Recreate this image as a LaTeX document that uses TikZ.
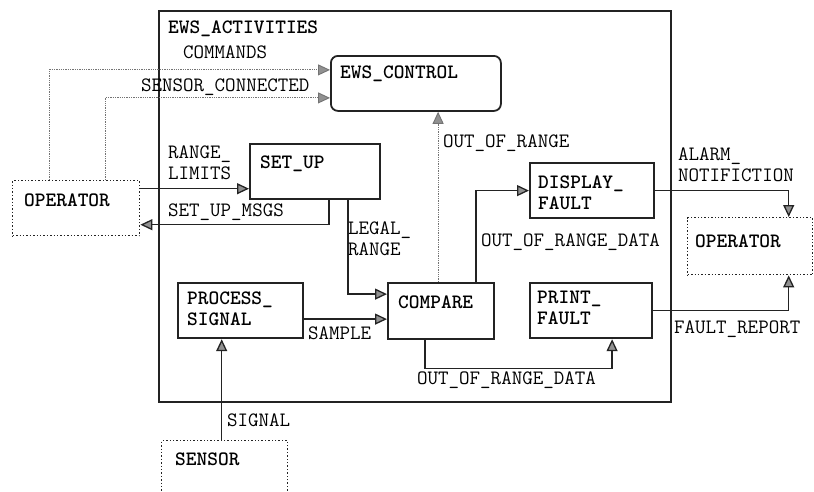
\documentclass[tikz,border=0pt]{standalone}
\usetikzlibrary{arrows.meta,positioning}
\definecolor{inkline}{RGB}{35,35,35}
\definecolor{tipfill}{RGB}{145,145,145}
\definecolor{ctrlink}{RGB}{115,115,115}
\newcommand{\diagfont}{\ttfamily\fontsize{20.4}{21}\selectfont}
\tikzset{
  activity/.style={draw=inkline,line width=2.4pt,anchor=north west,inner sep=0pt},
  procbox/.style={draw=inkline,line width=2.2pt,anchor=north west,inner sep=0pt},
  ctrlbox/.style={procbox,rounded corners=7pt,line width=1.8pt},
  extbox/.style={draw=inkline,dotted,line width=1.4pt,anchor=north west,inner sep=0pt},
  boxtext/.style={font=\diagfont\bfseries,text=black,anchor=base west,inner sep=0pt,align=left},
  flowlabel/.style={font=\diagfont,text=black,anchor=base west,inner sep=0pt,align=left},
  arc/.style={-{Triangle[length=12pt,width=11pt,fill=tipfill]},draw=inkline,line width=1.3pt},
  ctrlarc/.style={arc,draw=ctrlink,densely dotted,line width=0.9pt}
}
\begin{document}
\begin{tikzpicture}[x=1pt,y=-1pt]
  \useasboundingbox (0,0) rectangle (814,491);
  \clip (0,0) rectangle (814,491);

  % context boundary
  \node[activity,minimum width=512pt,minimum height=391pt] (ews) at (158,10) {};
  \node[boxtext] (ewsT) at (168,33) {EWS\_ACTIVITIES};

  % processes
  \node[ctrlbox,minimum width=170pt,minimum height=55pt] (ctrl) at (330,55) {};
  \node[boxtext] (ctrlT) at (340,78) {EWS\_CONTROL};
  \node[procbox,minimum width=130pt,minimum height=55pt] (setup) at (249,143) {};
  \node[boxtext] (setupT) at (260,168) {SET\_UP};
  \node[procbox,minimum width=125pt,minimum height=55pt] (proc) at (177,282) {};
  \node[boxtext] (procT) at (187,325) {PROCESS\_\\SIGNAL};
  \node[procbox,minimum width=106pt,minimum height=56pt] (cmp) at (387,282) {};
  \node[boxtext] (cmpT) at (398,308) {COMPARE};
  \node[procbox,minimum width=124pt,minimum height=55pt] (disp) at (529,162) {};
  \node[boxtext] (dispT) at (538,209) {DISPLAY\_\\FAULT};
  \node[procbox,minimum width=122pt,minimum height=55pt] (prt) at (529,282) {};
  \node[boxtext] (prtT) at (537,324) {PRINT\_\\FAULT};

  % terminators
  \node[extbox,minimum width=127pt,minimum height=55pt] (opL) at (12,180) {};
  \node[boxtext] (opLT) at (24,206) {OPERATOR};
  \node[extbox,minimum width=125pt,minimum height=57pt] (opR) at (687,217) {};
  \node[boxtext] (opRT) at (695,247) {OPERATOR};
  \node[extbox,minimum width=126pt,minimum height=70pt] (sensor) at (161,440) {};
  \node[boxtext] (sensorT) at (175,465) {SENSOR};

  % control flows
  \draw[ctrlarc] ([xshift=37pt]opL.north west) |- ([yshift=13.5pt]ctrl.west);
  \draw[ctrlarc] ([xshift=93pt]opL.north west) |- ([yshift=-14.5pt]ctrl.west);
  \draw[ctrlarc] ([xshift=-3pt]cmp.north) -- ([xshift=-3pt]cmp.north |- ctrl.south);

  % data flows
  \draw[arc] ([yshift=19.5pt]opL.east) -- ([yshift=19.5pt]opL.east -| setup.west);
  \draw[arc] ([xshift=14pt]setup.south) |- ([yshift=-16.5pt]opL.east);
  \draw[arc] ([xshift=33pt]setup.south) |- ([yshift=17pt]cmp.west);
  \draw[arc] ([yshift=-8.5pt]proc.east) -- ([yshift=-8.5pt]proc.east -| cmp.west);
  \draw[arc] ([xshift=-3pt]sensor.north) -- ([xshift=-3pt]sensor.north |- proc.south);
  \draw[arc] ([xshift=35pt]cmp.north) |- (disp.west);
  \draw[arc] ([xshift=-16pt]cmp.south) -- ++(0,28) -| ([xshift=21pt]prt.south);
  \draw[arc] (disp.east) -| ([xshift=38.5pt]opR.north);
  \draw[arc] (prt.east) -| ([xshift=38.5pt]opR.south);

  % flow labels
  \node[flowlabel] (cmdL) at (183,58) {COMMANDS};
  \node[flowlabel] (connL) at (141,91) {SENSOR\_CONNECTED};
  \node[flowlabel] (limL) at (168,179) {RANGE\_\\LIMITS};
  \node[flowlabel] (msgL) at (168,216) {SET\_UP\_MSGS};
  \node[flowlabel] (legL) at (348,255) {LEGAL\_\\RANGE};
  \node[flowlabel] (oorL) at (443,147) {OUT\_OF\_RANGE};
  \node[flowlabel] (alarmL) at (678,181) {ALARM\_\\NOTIFICTION};
  \node[flowlabel] (oodL) at (481,246) {OUT\_OF\_RANGE\_DATA};
  \node[flowlabel] (sampL) at (308,339) {SAMPLE};
  \node[flowlabel] (ood2L) at (417,384) {OUT\_OF\_RANGE\_DATA};
  \node[flowlabel] (faultL) at (674,333) {FAULT\_REPORT};
  \node[flowlabel] (sigL) at (227,426) {SIGNAL};
\end{tikzpicture}
\end{document}
